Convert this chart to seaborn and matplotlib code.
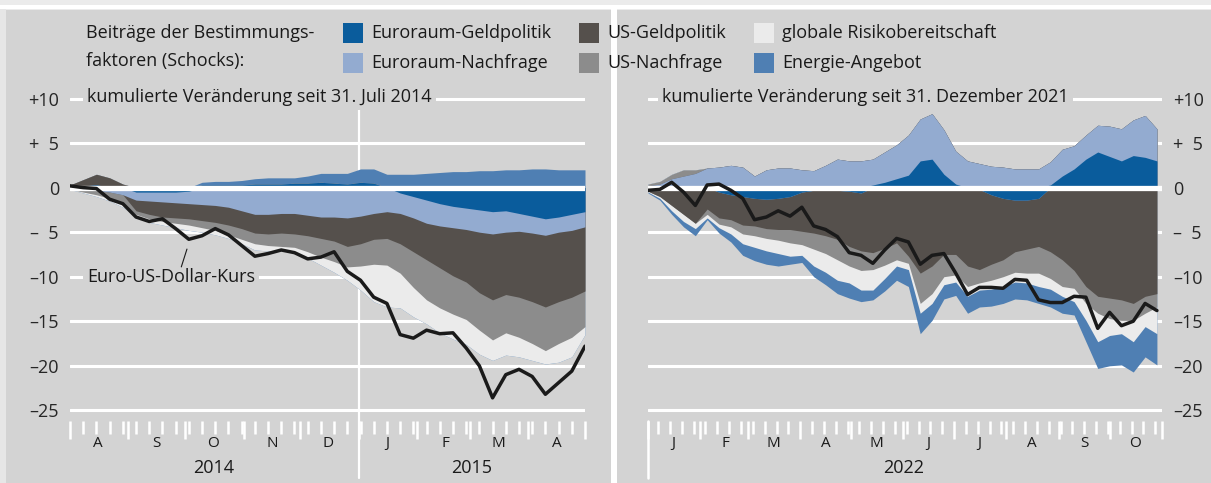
import numpy as np
import pandas as pd
import matplotlib
matplotlib.use("Agg")
import matplotlib.pyplot as plt
import matplotlib.dates as mdates
import matplotlib.transforms as mtransforms
from matplotlib.patches import Rectangle
import seaborn as sns

# ---------------------------------------------------------------
# Data (weekly readings, percent change)
# ---------------------------------------------------------------
shock_names = ["Euroraum-Geldpolitik", "Euroraum-Nachfrage", "US-Geldpolitik",
               "US-Nachfrage", "globale Risikobereitschaft", "Energie-Angebot"]

# left panel: since 31 July 2014
left_dates = pd.date_range("2014-08-01", periods=40, freq="7D")
left_ea_gp = [0.1, 0.2, 0.3, 0.1, 0.0, -0.5, -0.5, -0.5, -0.5, -0.4,
              0.3, 0.3, 0.3, 0.3, 0.4, 0.4, 0.4, 0.5, 0.5, 0.6,
              0.5, 0.4, 0.6, 0.5, 0.0, -0.6, -1.0, -1.4, -1.8, -2.1,
              -2.3, -2.5, -2.7, -2.6, -2.9, -3.2, -3.5, -3.3, -3.0, -2.7]
left_ea_nf = [-0.1, -0.2, -0.3, -0.5, -0.8, -0.9, -1.0, -1.1, -1.2, -1.4,
              -1.9, -2.0, -2.2, -2.6, -3.0, -3.0, -2.9, -2.9, -3.1, -3.3,
              -3.3, -3.4, -3.2, -2.9, -2.7, -2.3, -2.4, -2.6, -2.5, -2.4,
              -2.4, -2.5, -2.5, -2.4, -2.0, -1.9, -1.85, -1.7, -1.8, -1.7]
left_us_gp = [0.2, 0.7, 1.2, 1.0, 0.4, -1.2, -1.5, -1.7, -1.7, -1.7,
              -1.8, -1.9, -2.0, -2.0, -2.1, -2.2, -2.2, -2.3, -2.3, -2.4,
              -2.7, -3.2, -3.1, -2.9, -3.0, -3.4, -3.8, -4.1, -4.7, -5.4,
              -5.9, -6.8, -7.4, -7.0, -7.4, -7.7, -8.05, -7.8, -7.5, -7.2]
left_us_nf = [-0.1, -0.3, -0.5, -0.7, -1.0, -0.4, -0.5, -0.5, -0.6, -0.7,
              -0.8, -0.9, -1.1, -1.2, -1.2, -1.3, -1.5, -1.5, -1.8, -2.1,
              -2.3, -2.3, -2.5, -2.8, -3.0, -3.3, -4.0, -4.5, -4.5, -4.3,
              -4.2, -4.2, -4.5, -4.3, -4.5, -4.7, -4.9, -4.7, -4.5, -4.0]
left_risk = [0.0, -0.1, -0.2, -0.3, -0.4, -0.2, -0.4, -0.4, -0.5, -0.6,
             -0.5, -0.5, -0.4, -0.5, -0.7, -0.6, -0.5, -0.5, -0.7, -0.9,
             -1.2, -1.5, -2.7, -4.2, -4.7, -3.9, -3.3, -2.7, -2.8, -2.8,
             -2.8, -2.7, -2.3, -2.5, -2.2, -1.9, -1.5, -2.1, -2.2, -0.9]
left_energy = [0.0, 0.0, 0.0, 0.0, 0.0, 0.0, 0.0, 0.0, 0.0, 0.0,
               0.3, 0.4, 0.4, 0.5, 0.6, 0.7, 0.7, 0.6, 0.8, 1.0,
               1.1, 1.2, 1.5, 1.6, 1.5, 1.5, 1.5, 1.6, 1.7, 1.8,
               1.8, 1.9, 1.9, 2.0, 2.0, 2.1, 2.1, 2.0, 2.0, 2.0]
left_rate = [0.2, 0.0, -0.1, -1.3, -1.8, -3.3, -3.8, -3.5, -4.6, -5.8,
             -5.4, -4.6, -5.3, -6.5, -7.7, -7.4, -7.0, -7.3, -8.0, -7.8,
             -7.2, -9.4, -10.4, -12.3, -13.0, -16.5, -16.9, -16.0, -16.4, -16.3,
             -18.0, -20.0, -23.6, -21.0, -20.4, -21.2, -23.2, -21.9, -20.6, -17.8]

# right panel: since 31 December 2021
right_dates = pd.date_range("2022-01-01", periods=44, freq="7D")
right_ea_gp = [0.0, 0.0, 0.0, 0.0, 0.0, 0.0, -0.5, -0.8, -1.0, -1.2,
               -1.3, -1.2, -1.0, -0.5, -0.3, -0.3, -0.3, -0.4, -0.6, 0.3,
               0.6, 1.0, 1.4, 3.0, 3.2, 1.5, 0.4, -0.2, -0.2, -0.8,
               -1.2, -1.4, -1.4, -1.2, 0.3, 1.3, 2.1, 3.2, 4.0, 3.5,
               3.0, 3.6, 3.4, 3.0]
right_ea_nf = [0.2, 0.4, 1.0, 1.3, 1.6, 2.2, 2.3, 2.5, 2.3, 1.3,
               2.0, 2.2, 2.2, 2.0, 1.9, 2.5, 3.2, 3.0, 3.0, 2.9,
               3.4, 3.8, 4.5, 4.7, 5.1, 5.0, 3.7, 3.0, 2.7, 2.4,
               2.3, 2.1, 2.1, 2.1, 2.6, 3.0, 2.6, 2.7, 3.0, 3.4,
               3.6, 4.0, 4.7, 3.6]
right_us_gp = [-0.4, -1.0, -2.0, -3.0, -4.0, -2.4, -2.9, -2.8, -3.2, -3.1,
               -3.3, -3.5, -3.7, -4.4, -4.8, -5.1, -5.5, -6.2, -6.5, -7.3,
               -6.8, -6.2, -7.7, -9.6, -8.8, -7.5, -7.5, -8.6, -9.0, -7.8,
               -6.9, -5.8, -5.5, -5.4, -7.2, -8.1, -9.3, -11.1, -12.2, -12.4,
               -12.6, -13.0, -12.2, -11.9]
right_us_nf = [0.2, 0.3, 0.5, 0.7, 0.4, -0.6, -0.7, -0.8, -1.0, -1.1,
               -1.1, -1.2, -1.5, -1.5, -1.8, -2.0, -2.3, -2.2, -2.2, -1.9,
               -1.9, -1.9, -0.8, -3.4, -3.1, -2.5, -2.3, -2.3, -1.5, -1.8,
               -1.9, -2.3, -2.7, -3.0, -3.0, -3.0, -2.0, -1.9, -1.9, -2.3,
               -2.3, -1.9, -1.9, -1.5]
right_risk = [-0.1, -0.2, -0.6, -0.8, -0.6, -0.4, -0.4, -0.8, -1.1, -1.3,
              -1.4, -1.5, -1.5, -1.2, -1.9, -2.1, -2.3, -1.9, -2.2, -2.3,
              -1.5, -0.7, -0.7, -1.1, -1.1, -0.9, -0.8, -1.1, -0.8, -1.0,
              -1.1, -1.1, -1.1, -1.5, -1.2, -1.1, -1.5, -1.9, -3.2, -1.9,
              -1.5, -2.4, -1.5, -3.0]
right_energy = [-0.1, -0.2, -0.4, -0.6, -0.8, -0.2, -0.6, -0.9, -1.3, -1.5,
                -1.5, -1.4, -0.9, -0.8, -1.2, -1.4, -1.5, -1.7, -1.3, -1.1,
                -1.4, -1.6, -1.9, -2.3, -1.9, -1.6, -1.5, -1.9, -1.9, -1.9,
                -1.9, -1.9, -1.9, -1.9, -2.0, -1.9, -1.5, -2.4, -3.0, -3.4,
                -3.5, -3.4, -3.4, -3.5]
right_rate = [-0.3, -0.2, 0.6, -0.5, -2.0, 0.3, 0.4, -0.3, -1.2, -3.6,
              -3.3, -2.6, -3.2, -2.2, -4.3, -4.7, -5.5, -7.3, -7.6, -8.5,
              -7.0, -5.7, -6.1, -8.6, -7.6, -7.4, -9.6, -12.0, -11.2, -11.2,
              -11.3, -10.3, -10.4, -12.6, -12.9, -12.9, -12.2, -12.3, -15.8, -14.0,
              -15.5, -15.0, -13.0, -13.8]

y_ticks = [10, 5, 0, -5, -10, -15, -20, -25]
y_tick_labels = ["+10", "+  5", "0", "\u2013  5", "\u201310", "\u201315", "\u201320", "\u201325"]
month_letters = ["J", "F", "M", "A", "M", "J", "J", "A", "S", "O", "N", "D"]

colors = ["#0a5c9c", "#93abd0", "#55504c", "#8c8c8c", "#ebebeb", "#4f7fb3"]
BG = "#d3d3d3"
W, H = 1211, 483
FS = 13

sns.set_style("white")
plt.rcParams["font.family"] = ["Open Sans", "DejaVu Sans"]
plt.rcParams["text.color"] = "#1a1a1a"

fig = plt.figure(figsize=(W / 100, H / 100), dpi=100, facecolor=BG)


def fx(px):
    return px / W


def fy(py):
    return 1 - py / H


# frame pieces: light top strip, white rules, panel separator
fig.add_artist(Rectangle((0, fy(10)), 1, 10 / H, transform=fig.transFigure,
                         facecolor="#ebebeb", edgecolor="none", zorder=0))
fig.add_artist(Rectangle((0, fy(9)), 1, 4 / H, transform=fig.transFigure,
                         facecolor="white", edgecolor="none", zorder=0))
fig.add_artist(Rectangle((0, 0), 6 / W, fy(9), transform=fig.transFigure,
                         facecolor="#e6e6e6", edgecolor="none", zorder=0))
fig.add_artist(Rectangle((fx(611), 0), 6 / W, fy(9), transform=fig.transFigure,
                         facecolor="white", edgecolor="none", zorder=0))

# legend
fig.text(fx(86), fy(33), "Beiträge der Bestimmungs-", fontsize=FS, va="center")
fig.text(fx(86), fy(61), "faktoren (Schocks):", fontsize=FS, va="center")
legend_slots = [(343, 33), (343, 63), (579, 33), (579, 63), (754, 33), (754, 63)]
for k, (px, py) in enumerate(legend_slots):
    fig.add_artist(Rectangle((fx(px), fy(py + 10)), 20 / W, 20 / H,
                             transform=fig.transFigure, facecolor=colors[k],
                             edgecolor="none"))
    fig.text(fx(px + 28), fy(py), shock_names[k], fontsize=FS, va="center")


def draw_panel(ax, dates, comps, rate, x0, x1, right):
    ax.set_facecolor(BG)
    for s in ax.spines.values():
        s.set_visible(False)
    # white grid
    for v in y_ticks:
        if v != 0:
            ax.axhline(v, color="white", lw=2.2, zorder=0.5)
    # stacked contributions: cumulate positive and negative parts separately,
    # then paint from the outermost layer inwards so no seams show
    n = len(dates)
    pos = np.zeros(n)
    neg = np.zeros(n)
    layers = []
    for vals, c in zip(comps, colors):
        v = np.asarray(vals, dtype=float)
        pos = pos + np.clip(v, 0, None)
        neg = neg + np.clip(v, None, 0)
        layers.append((pos.copy(), neg.copy(), c))
    for p, q, c in reversed(layers):
        ax.fill_between(dates, 0, p, where=None, color=c, lw=0, zorder=2)
        ax.fill_between(dates, 0, q, where=None, color=c, lw=0, zorder=2)
    ax.axhline(0, color="white", lw=3.8, zorder=3)
    df = pd.DataFrame({"date": dates, "rate": rate})
    sns.lineplot(data=df, x="date", y="rate", ax=ax, color="#1a1a1a",
                 linewidth=2.5, zorder=4)
    ax.set_xlim(pd.Timestamp(x0), pd.Timestamp(x1))
    ax.set_ylim(-26.2, 10.4)
    ax.set_xlabel("")
    ax.set_ylabel("")
    ax.set_yticks(y_ticks)
    ax.set_yticklabels(y_tick_labels, fontsize=FS)
    if right:
        ax.yaxis.tick_right()
    ax.tick_params(axis="y", length=0, pad=8)
    # weekly and monthly tick marks
    ax.xaxis.set_major_locator(mdates.MonthLocator())
    ax.xaxis.set_minor_locator(mdates.WeekdayLocator(byweekday=mdates.FR))
    ax.xaxis.set_major_formatter(plt.NullFormatter())
    ax.xaxis.set_minor_formatter(plt.NullFormatter())
    ax.tick_params(axis="x", which="both", bottom=True, direction="out",
                   color="white", width=1.8)
    ax.tick_params(axis="x", which="major", length=13)
    ax.tick_params(axis="x", which="minor", length=9.5)
    # month letters
    trans = mtransforms.blended_transform_factory(ax.transData, ax.transAxes)
    for m in pd.date_range(x0, x1, freq="MS")[:-1]:
        mid = m + pd.Timedelta(days=15)
        ax.text(mid, -0.068, month_letters[m.month - 1], transform=trans,
                ha="center", va="center", fontsize=11)
    return trans


ax1 = fig.add_axes([fx(70), 1 - 421 / H, (585 - 70) / W, 326 / H])
ax2 = fig.add_axes([fx(648), 1 - 421 / H, (1162 - 648) / W, 326 / H])

t1 = draw_panel(ax1, left_dates,
                [left_ea_gp, left_ea_nf, left_us_gp, left_us_nf, left_risk, left_energy],
                left_rate, "2014-08-01", "2015-05-01", False)
t2 = draw_panel(ax2, right_dates,
                [right_ea_gp, right_ea_nf, right_us_gp, right_us_nf, right_risk, right_energy],
                right_rate, "2022-01-01", "2022-11-01", True)

# year dividers
jan15 = pd.Timestamp("2015-01-01")
ax1.axvline(jan15, color="white", lw=1.6, zorder=0.6)
ax1.plot([jan15, jan15], [0, -0.175], transform=t1, color="white", lw=1.6,
         clip_on=False)
jan22 = pd.Timestamp("2022-01-01")
ax2.plot([jan22, jan22], [0, -0.175], transform=t2, color="white", lw=1.8,
         clip_on=False)

# year labels
ax1.text(pd.Timestamp("2014-10-16"), -0.145, "2014", transform=t1,
         ha="center", va="center", fontsize=FS)
ax1.text(pd.Timestamp("2015-03-02"), -0.145, "2015", transform=t1,
         ha="center", va="center", fontsize=FS)
ax2.text(pd.Timestamp("2022-06-01"), -0.145, "2022", transform=t2,
         ha="center", va="center", fontsize=FS)

# panel titles (cover the +10 grid line)
box = dict(facecolor=BG, edgecolor="none", pad=3)
fig.text(fx(87), fy(97), "kumulierte Veränderung seit 31. Juli 2014",
         fontsize=FS, va="center", bbox=box, zorder=5)
fig.text(fx(662), fy(97), "kumulierte Veränderung seit 31. Dezember 2021",
         fontsize=FS, va="center", bbox=box, zorder=5)

# line label with leader
ax1.text(pd.Timestamp("2014-08-10"), -10.05, "Euro-US-Dollar-Kurs",
         fontsize=FS, va="center", bbox=box, zorder=5)
ax1.plot([pd.Timestamp("2014-10-02"), pd.Timestamp("2014-09-29")],
         [-6.9, -8.9], color="#1a1a1a", lw=0.8, zorder=5)

fig.savefig("out.png", dpi=100, facecolor=BG)
